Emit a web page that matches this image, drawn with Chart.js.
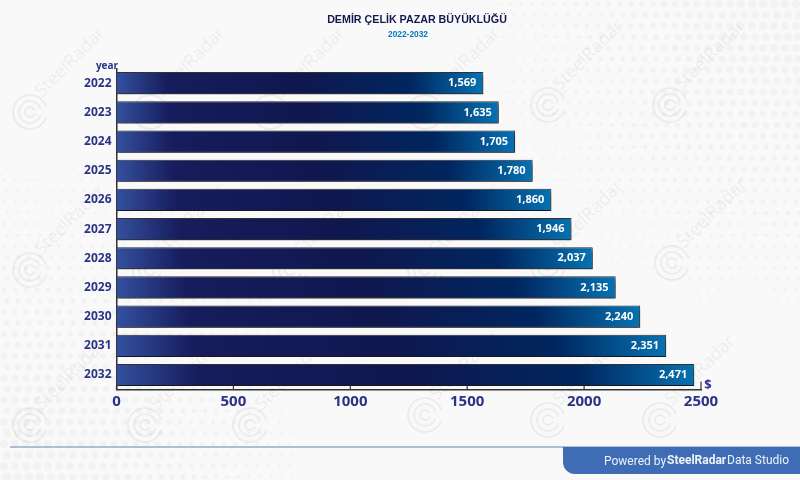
<!DOCTYPE html>
<html>
<head>
<meta charset="utf-8">
<title>Demir Çelik Pazar Büyüklüğü</title>
<script src="https://cdn.jsdelivr.net/npm/chart.js@4"></script>
<style>
  html, body { margin: 0; padding: 0; background: #f9f9f9; }
  canvas { display: block; }
</style>
</head>
<body>
<canvas id="marketSize" width="800" height="480"></canvas>
<script>
const years = ['2022', '2023', '2024', '2025', '2026', '2027', '2028', '2029', '2030', '2031', '2032'];
const marketValues = [1569, 1635, 1705, 1780, 1860, 1946, 2037, 2135, 2240, 2351, 2471];
const xTicks = [0, 500, 1000, 1500, 2000, 2500];

const navy = '#2b3385';

// marcas de agua del fondo
const watermarks = [[30, 112], [150, 112], [270, 112], [425, 112], [548, 105], [670, 105],
  [30, 270], [150, 270], [290, 270], [425, 270], [548, 265], [672, 263],
  [30, 425], [145, 425], [250, 425], [425, 415], [548, 420], [660, 420]];

const background = {
  id: 'background',
  beforeDraw(chart) {
    const c = chart.ctx;
    c.save();
    c.fillStyle = '#f9f9f9';
    c.fillRect(0, 0, 800, 480);

    // puntos arriba a la derecha y abajo a la izquierda
    c.fillStyle = '#f2f2f2';
    for (let x = 4; x < 800; x += 11) {
      for (let y = 4; y < 480; y += 11) {
        const topRight = Math.max(0, 1 - Math.hypot(800 - x, y) / 420);
        const botLeft = Math.max(0, 1 - Math.hypot(x, 480 - y) / 420);
        const r = Math.max(topRight, botLeft) * 4.5;
        if (r > 0.5) {
          c.beginPath();
          c.arc(x + (y % 2) * 3, y, r, 0, Math.PI * 2);
          c.fill();
        }
      }
    }

    c.strokeStyle = 'rgba(0,0,0,0.05)';
    c.fillStyle = 'rgba(0,0,0,0.05)';
    c.font = '18px "Open Sans"';
    c.lineWidth = 2;
    watermarks.forEach(([x, y]) => {
      [17, 11, 5].forEach(r => {
        c.beginPath();
        c.arc(x, y, r, 0.3, Math.PI * 1.9);
        c.stroke();
      });
      c.save();
      c.translate(x + 12, y - 14);
      c.rotate(-Math.PI / 4);
      c.fillText('SteelRadar', 0, 0);
      c.restore();
    });
    c.restore();
  }
};

const barShadow = {
  id: 'barShadow',
  beforeDatasetDraw(chart) {
    const c = chart.ctx;
    c.save();
    c.shadowColor = 'rgba(0,0,0,0.6)';
    c.shadowBlur = 4;
    c.shadowOffsetX = 1;
    c.shadowOffsetY = 3;
  },
  afterDatasetDraw(chart) {
    chart.ctx.restore();
  }
};

const annotations = {
  id: 'annotations',
  afterDraw(chart) {
    const c = chart.ctx;
    const x = chart.scales.x;
    const bottom = chart.chartArea.bottom;
    c.save();

    // marcas del eje hacia adentro
    c.strokeStyle = '#333';
    c.lineWidth = 1.2;
    x.ticks.forEach((t, i) => {
      const px = x.getPixelForTick(i);
      const last = i === x.ticks.length - 1;
      c.beginPath();
      c.moveTo(px, bottom);
      c.lineTo(px, bottom - (last ? 8 : 4));
      c.stroke();
    });

    // valores
    c.fillStyle = '#fff';
    c.font = 'bold 11px "Open Sans"';
    c.textAlign = 'right';
    c.textBaseline = 'middle';
    chart.getDatasetMeta(0).data.forEach((bar, i) => {
      c.fillText(marketValues[i].toLocaleString('en-US'), bar.x - 7, bar.y);
    });

    // textos
    c.textAlign = 'center';
    c.fillStyle = '#15184f';
    c.font = 'bold 10.7px "Liberation Sans"';
    c.fillText('DEMİR ÇELİK PAZAR BÜYÜKLÜĞÜ', 417, 20);
    c.fillStyle = '#0a78bd';
    c.font = 'bold 8.4px "Liberation Sans"';
    c.fillText('2022-2032', 408, 35);

    c.fillStyle = navy;
    c.font = 'bold 10px "Open Sans"';
    c.fillText('year', 107, 66);
    c.font = 'bold 13px "Open Sans"';
    c.fillText('$', 708, 385);

    // pie
    c.strokeStyle = '#5f86b5';
    c.lineWidth = 1;
    c.beginPath();
    c.moveTo(10, 447);
    c.lineTo(800, 447);
    c.stroke();
    c.fillStyle = '#3f6db5';
    c.beginPath();
    c.roundRect(563, 447, 240, 27, [0, 0, 0, 12]);
    c.fill();
    c.fillStyle = '#eef2f8';
    c.textAlign = 'left';
    c.font = '12px Roboto';
    c.fillText('Powered by', 604, 462);
    c.font = 'bold 12px Roboto';
    c.fillText('SteelRadar', 667, 461);
    c.font = '12px Roboto';
    c.fillText('Data Studio', 727, 461);
    c.restore();
  }
};

function barGradient(ctx) {
  const chart = ctx.chart;
  if (!chart.chartArea) return '#10174f';
  const x = chart.scales.x;
  const g = chart.ctx.createLinearGradient(x.getPixelForValue(0), 0, x.getPixelForValue(ctx.raw), 0);
  g.addColorStop(0, '#34509f');
  g.addColorStop(0.14, '#171c5c');
  g.addColorStop(0.5, '#10174f');
  g.addColorStop(0.8, '#00265f');
  g.addColorStop(1, '#0672b2');
  return g;
}

new Chart(document.getElementById('marketSize'), {
  type: 'bar',
  data: {
    labels: years,
    datasets: [{
      data: marketValues,
      backgroundColor: barGradient,
      borderColor: '#333',
      borderWidth: 1,
      barPercentage: 0.76,
      categoryPercentage: 1
    }]
  },
  options: {
    indexAxis: 'y',
    responsive: false,
    animation: false,
    layout: { padding: { top: 68.6, right: 99, left: 0, bottom: 0 } },
    plugins: {
      legend: { display: false },
      title: { display: false },
      tooltip: { enabled: false }
    },
    scales: {
      x: {
        min: 0,
        max: 2500,
        afterBuildTicks(scale) {
          scale.ticks = xTicks.map(v => ({ value: v }));
        },
        afterFit(scale) { scale.height = 90.4; },
        grid: { display: false, drawTicks: false },
        border: { color: '#333', width: 1.5 },
        ticks: {
          color: navy,
          padding: 3,
          maxRotation: 0,
          callback: value => String(value),
          font: { family: 'Open Sans', size: 15, weight: 'bold' }
        }
      },
      y: {
        afterFit(scale) { scale.width = 116.5; },
        grid: { display: false, drawTicks: false },
        border: { color: '#333', width: 1.5 },
        ticks: {
          color: navy,
          padding: 5,
          font: { family: 'Open Sans', size: 12, weight: 'bold' }
        }
      }
    }
  },
  plugins: [background, barShadow, annotations]
});
</script>
</body>
</html>
